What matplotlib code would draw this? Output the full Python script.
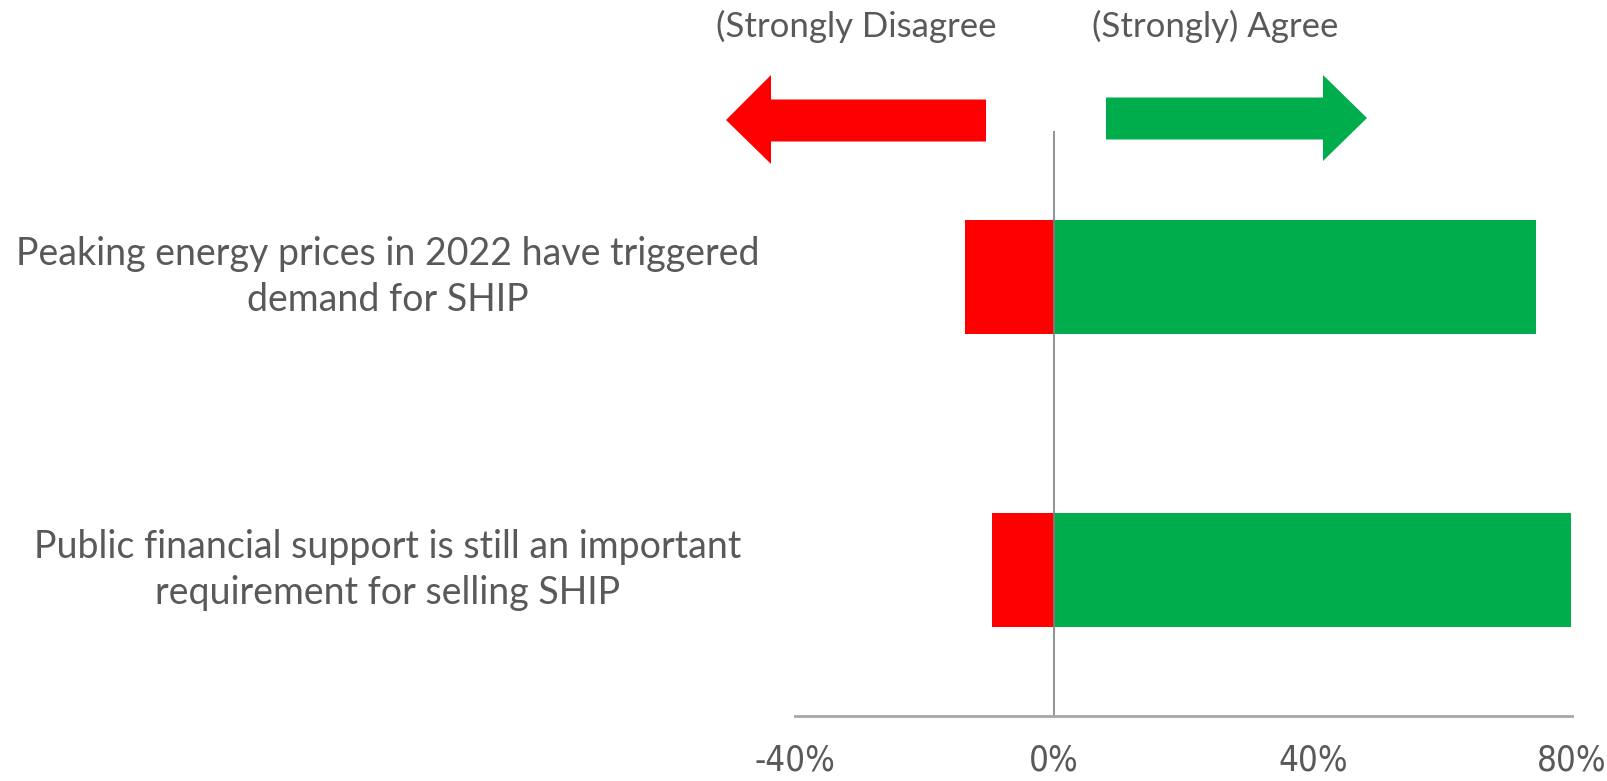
import matplotlib.pyplot as plt
from matplotlib.patches import Polygon
from matplotlib.transforms import blended_transform_factory

# data (percent)
statements = ['Peaking energy prices in 2022 have triggered\ndemand for SHIP',
              'Public financial support is still an important\nrequirement for selling SHIP']
disagree = [-13.8, -9.5]
agree = [74.4, 79.8]
xticks = [-40, 0, 40, 80]
xticklabels = ['-40%', '0%', '40%', '80%']

W, H = 1608, 781
fig = plt.figure(figsize=(W / 100, H / 100), dpi=100)
ax = fig.add_axes([795 / W, 1 - 716 / H, (1572 - 795) / W, (716 - 131) / H])

pos = list(range(len(statements)))
ax.barh(pos, disagree, height=0.39, color='#FF0000')
ax.barh(pos, agree, height=0.39, color='#00AD4D')
ax.axvline(0, color='#808080', lw=1.2)

ax.set_xlim(-40, 80)
ax.set_ylim(1.5, -0.5)
ax.set_yticks([])
ax.set_xticks(xticks)
ax.set_xticklabels(xticklabels, family='DejaVu Sans', fontstretch='condensed',
                   fontsize=25, color='#595959')
ax.tick_params(axis='x', length=0, pad=20)
for s in ['top', 'right', 'left']:
    ax.spines[s].set_visible(False)
ax.spines['bottom'].set_color('#A6A6A6')
ax.spines['bottom'].set_linewidth(2)

# category labels, centred to the left of the plot
tr = blended_transform_factory(fig.transFigure, ax.transData)
for p, s in zip(pos, statements):
    ax.text(388 / W, p, s, transform=tr, ha='center', va='center',
            fontsize=27, color='#595959', family=['Lato', 'DejaVu Sans'],
            linespacing=1.33)

# direction arrows above the plot (pixel coordinates)
def px(pts):
    return [(x / W, 1 - y / H) for x, y in pts]

red = [(726, 120), (771, 75), (771, 99.5), (986, 99.5), (986, 141.5),
       (771, 141.5), (771, 164)]
green = [(1367, 118), (1323, 75), (1323, 97.5), (1106, 97.5), (1106, 139.5),
         (1323, 139.5), (1323, 161)]
fig.patches.append(Polygon(px(red), closed=True, transform=fig.transFigure,
                           facecolor='#FF0000', edgecolor='none'))
fig.patches.append(Polygon(px(green), closed=True, transform=fig.transFigure,
                           facecolor='#00AD4D', edgecolor='none'))

fig.text(856 / W, 1 - 26 / H, '(Strongly Disagree', ha='center', va='center',
         fontsize=25, color='#595959', family=['Lato', 'DejaVu Sans'])
fig.text(1215 / W, 1 - 26 / H, '(Strongly) Agree', ha='center', va='center',
         fontsize=25, color='#595959', family=['Lato', 'DejaVu Sans'])

fig.savefig('out.png', dpi=100)
